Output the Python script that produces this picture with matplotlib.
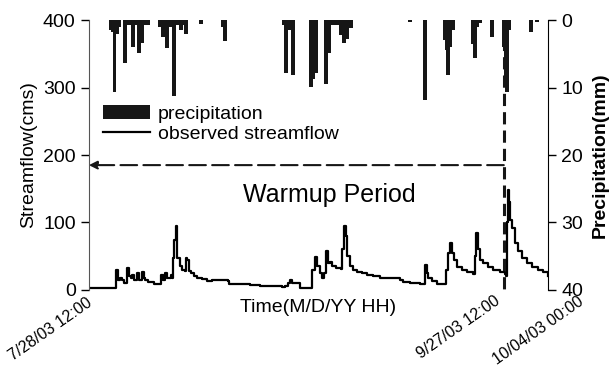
import numpy as np
import pandas as pd
import matplotlib
matplotlib.use("Agg")
import matplotlib.pyplot as plt
from matplotlib.transforms import ScaledTranslation

plt.rcParams['font.family'] = ['Liberation Sans', 'DejaVu Sans']

START = pd.Timestamp("2003-07-28 12:00")
END = pd.Timestamp("2003-10-04 00:00")
WARMUP_END = pd.Timestamp("2003-09-27 12:00")

# streamflow: time (days after start) and value (cms)
flow_days = [0.00, 3.97, 4.04, 4.26, 4.56, 4.85, 5.15, 5.44, 5.59, 5.88, 6.18, 6.32,
             6.62, 6.91, 7.06, 7.35, 7.65, 7.79, 8.09, 8.24, 8.68, 9.41, 9.56, 10.44,
             10.59, 10.88, 11.18, 11.47, 11.91, 12.06, 12.21, 12.35, 12.50, 12.79, 12.94,
             13.38, 13.68, 14.12, 14.26, 14.41, 14.71, 15.00, 15.44, 15.88, 16.62, 17.35,
             18.09, 20.44, 20.59, 22.94, 23.68, 25.15, 28.09, 28.38, 28.82, 29.26, 29.56,
             29.85, 30.29, 31.03, 32.50, 32.79, 33.24, 33.53, 33.97, 34.26, 34.56, 34.85,
             35.15, 35.44, 35.74, 36.32, 37.06, 37.21, 37.50, 37.79, 37.94, 38.38, 38.82,
             39.41, 40.15, 40.88, 41.76, 42.79, 44.26, 45.74, 46.18, 47.21, 48.68, 49.26,
             49.41, 49.71, 49.85, 50.44, 51.18, 52.35, 52.50, 52.79, 53.09, 53.38, 53.68,
             54.12, 54.85, 55.59, 56.47, 56.76, 56.91, 57.21, 57.50, 57.94, 58.68, 59.41,
             60.44, 61.18, 61.32, 61.47, 61.62, 61.76, 61.91, 62.21, 62.65, 63.09, 63.68,
             64.41, 65.15, 66.03, 66.76, 67.50]
flow_vals = [3, 3, 30, 14, 18, 15, 10, 10, 33, 20, 17, 22,
             15, 14, 25, 15, 14, 27, 18, 15, 12, 12, 9, 9,
             22, 15, 25, 17, 17, 22, 17, 47, 74, 95, 47,
             35, 30, 28, 47, 45, 28, 25, 20, 18, 16, 13,
             14, 13, 9, 9, 7, 6, 6, 4, 6, 10, 15,
             10, 10, 3, 3, 30, 49, 35, 25, 17, 25, 57,
             40, 42, 35, 33, 31, 60, 94, 80, 50, 35, 30,
             27, 25, 22, 21, 18, 17, 15, 12, 10, 9, 9,
             37, 25, 17, 13, 9, 9, 30, 55, 69, 55, 44,
             34, 29, 26, 24, 50, 85, 60, 44, 40, 34, 29,
             26, 24, 20, 100, 148, 130, 104, 92, 69, 57, 47,
             40, 34, 30, 27, 20]

# precipitation: time (days after start) and depth (mm)
rain_days = [3.24, 3.53, 3.75, 4.12, 4.41, 5.29, 5.74, 6.03, 6.47, 6.91, 7.35, 7.79,
             8.24, 8.68, 10.44, 10.88, 11.47, 11.91, 12.50, 12.94, 13.53, 13.97, 14.26,
             16.47, 19.71, 20.00, 28.68, 28.97, 29.41, 30.00, 32.65, 33.01, 33.38, 34.85,
             35.29, 35.74, 36.18, 36.62, 37.06, 37.50, 37.94, 38.53, 47.21, 49.41, 52.35,
             52.57, 52.79, 53.09, 53.53, 56.47, 56.76, 57.06, 57.50, 59.26, 61.03, 61.25,
             61.47, 61.76, 65.00, 65.88]
rain_vals = [1.5, 1.8, 10.7, 2.0, 1.0, 6.4, 0.7, 0.7, 4.0, 0.7, 4.9, 3.4,
             0.7, 0.7, 1.0, 2.5, 4.2, 1.0, 11.3, 0.7, 1.5, 0.7, 2.0,
             0.5, 1.0, 3.1, 0.7, 7.8, 1.5, 8.1, 9.9, 8.8, 7.8, 9.5,
             4.9, 0.7, 0.7, 0.7, 2.2, 3.4, 2.8, 1.2, 0.3, 11.9, 3.0,
             4.4, 8.1, 4.0, 1.5, 3.5, 5.6, 1.0, 0.4, 2.5, 4.0, 8.4,
             10.7, 1.5, 1.8, 0.3]

tick_times = [START, WARMUP_END, END]
tick_labels = ["7/28/03 12:00", "9/27/03 12:00", "10/04/03 00:00"]

flow_t = START + pd.to_timedelta(flow_days, unit="D")
rain_t = START + pd.to_timedelta(rain_days, unit="D")

fig = plt.figure(figsize=(6.13, 3.66), dpi=100)
ax = fig.add_axes([0.145, 0.208, 0.749, 0.737])
ax2 = ax.twinx()

ax2.bar(rain_t, rain_vals, width=pd.Timedelta(hours=13), color="#161616",
        edgecolor="none", align="center", label="precipitation")
ax2.set_ylim(40, 0)
ax2.set_yticks([0, 10, 20, 30, 40])
ax2.set_ylabel("Precipitation(mm)", fontsize=14, fontweight="bold", labelpad=6)

ln, = ax.plot(flow_t, flow_vals, color="black", lw=1.6, drawstyle="steps-post",
              label="observed streamflow")
ax.set_ylim(0, 400)
ax.set_yticks([0, 100, 200, 300, 400])
ax.set_xlim(START, END)
ax.set_ylabel("Streamflow(cms)", fontsize=14, labelpad=4)

# warm-up markers
ax.plot([WARMUP_END, WARMUP_END], [400, -5], color="#161616", lw=2.2,
        ls=(0, (4, 2)), zorder=5, clip_on=False)
ax.annotate("", xy=(START, 185), xytext=(WARMUP_END, 185),
            arrowprops=dict(arrowstyle="-|>", color="#161616", lw=1.5,
                            linestyle=(0, (8, 3)), mutation_scale=12,
                            shrinkA=0, shrinkB=0))
ax.text(pd.Timestamp("2003-09-01 19:00"), 140, "Warmup Period", fontsize=18,
        ha="center", va="center")

for a in (ax, ax2):
    a.spines["top"].set_visible(False)
    a.spines["bottom"].set_visible(False)
    a.tick_params(labelsize=14, length=6, width=1)
ax.spines["right"].set_visible(False)
ax.spines["left"].set_color("#555555")
ax.tick_params(axis="y", colors="black")
ax2.spines["left"].set_visible(False)

ax.set_xticks(tick_times)
ax.set_xticklabels(tick_labels, rotation=35, ha="right", rotation_mode="anchor",
                   fontsize=11.5)
ax.tick_params(axis="x", length=0, pad=4)
offs = [(-0.03, 0.0), (-0.1, 0.02), (0.3, 0.02)]
for lab, (dx, dy) in zip(ax.get_xticklabels(), offs):
    lab.set_transform(lab.get_transform() + ScaledTranslation(dx, dy, fig.dpi_scale_trans))

ax.text(0.5, -0.035, "Time(M/D/YY HH)", transform=ax.transAxes, fontsize=14,
        ha="center", va="top")

h1, l1 = ax2.get_legend_handles_labels()
h2, l2 = ax.get_legend_handles_labels()
ax.legend(h1 + h2, l1 + l2, loc="upper left", bbox_to_anchor=(0.01, 0.72),
          frameon=False, fontsize=14, handlelength=2.4, handletextpad=0.4,
          labelspacing=0.1, borderpad=0)

fig.savefig("out.png", dpi=100)
